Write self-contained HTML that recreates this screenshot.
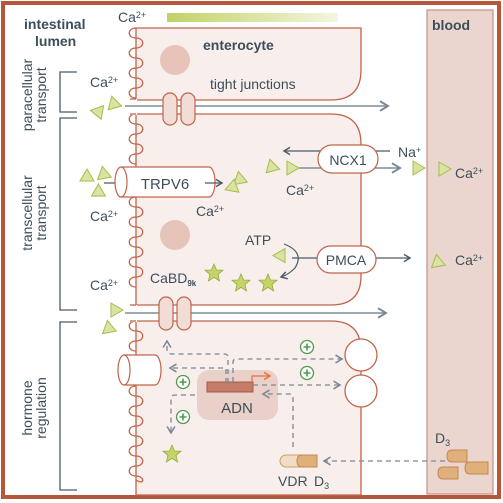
<!DOCTYPE html>
<html><head><meta charset="utf-8"><style>
html,body{margin:0;padding:0;background:#fff}
svg{display:block;font-family:"Liberation Sans",sans-serif}
</style></head><body>
<svg width="503" height="503" viewBox="0 0 503 503">
<defs>
<marker id="ah" markerWidth="8" markerHeight="8" refX="6" refY="4" orient="auto"><path d="M1,1 L6,4 L1,7" fill="none" stroke="#4a5a66" stroke-width="1.2"/></marker>
<marker id="ahg" markerWidth="8" markerHeight="8" refX="6" refY="4" orient="auto"><path d="M1,1 L6,4 L1,7" fill="none" stroke="#7a8894" stroke-width="1.2"/></marker>
<marker id="aho" markerWidth="8" markerHeight="8" refX="6" refY="4" orient="auto"><path d="M1,1 L6,4 L1,7" fill="none" stroke="#e8703a" stroke-width="1.2"/></marker>
<linearGradient id="grad" x1="0" x2="1"><stop offset="0" stop-color="#c3d166"/><stop offset="1" stop-color="#f3f6e0"/></linearGradient>
<g id="tri"><path d="M0,-7 L12,0 L0,7 Z" fill="#d8e4a2" stroke="#a9bb4c" stroke-width="1"/></g>
<g id="star"><path d="M0,-9 L2.6,-3 L9,-2.8 L4,1.4 L5.6,8 L0,4.4 L-5.6,8 L-4,1.4 L-9,-2.8 L-2.6,-3 Z" fill="#c5d46a" stroke="#98ab3c" stroke-width="0.8"/></g>
<g id="plus"><circle r="6.5" fill="#fff" stroke="#4f9a4f" stroke-width="1.3"/><path d="M-3.5,0 H3.5 M0,-3.5 V3.5" stroke="#4f9a4f" stroke-width="1.6"/></g>
</defs>
<rect x="3" y="3" width="496" height="494" fill="#fff" stroke="#b5573a" stroke-width="4"/>
<rect x="427" y="10" width="66" height="484" fill="#ead5cf" stroke="#c99080" stroke-width="1.2"/>
<rect x="167" y="13" width="171" height="9" fill="url(#grad)"/>

<g fill="#f8efed" stroke="#c0644a" stroke-width="1.3">
<path d="M136,28 H361 V70 Q361,100 331,100 H136 Z"/>
<path d="M136,114 H331 Q361,114 361,144 V276 Q361,305 331,305 H136 Z"/>
<path d="M136,321 H331 Q361,321 361,351 V495 H136 Z"/>
</g>
<g fill="#fff" stroke="#c0644a" stroke-width="1.3">
<circle cx="361" cy="355" r="16"/>
<circle cx="361" cy="391" r="16"/>
</g>
<path fill="none" stroke="#c0644a" stroke-width="1.3"
d="M136,28 c-9,0 -9,10 0,10 c9,0 9,10 0,10 c-9,0 -9,10 0,10 c9,0 9,10 0,10 c-9,0 -9,10 0,10 c9,0 9,10 0,10 c-9,0 -9,10 0,10
M136,114 c-9,0 -9,10 0,10 c9,0 9,10 0,10 c-9,0 -9,10 0,10 c9,0 9,10 0,10 c-9,0 -9,10 0,10 M136,197 c-9,0 -9,10 0,10 c9,0 9,10 0,10 c-9,0 -9,10 0,10 c9,0 9,10 0,10 c-9,0 -9,10 0,10 c9,0 9,10 0,10 c-9,0 -9,10 0,10 c9,0 9,10 0,10 c-9,0 -9,10 0,10
M136,321 c-9,0 -9,10 0,10 c9,0 9,10 0,10 c-9,0 -9,10 0,10 M136,386 c-9,0 -9,10 0,10 c9,0 9,10 0,10 c-9,0 -9,10 0,10 c9,0 9,10 0,10 c-9,0 -9,10 0,10 c9,0 9,10 0,10 c-9,0 -9,10 0,10 c9,0 9,10 0,10 c-9,0 -9,10 0,10 c9,0 9,10 0,4"/>
<rect x="131" y="99" width="6" height="16" fill="#fff"/>
<rect x="131" y="305" width="6" height="17" fill="#fff"/>
<line x1="130" y1="99" x2="136" y2="99" stroke="#c0644a" stroke-width="1.3"/>
<line x1="130" y1="114" x2="136" y2="114" stroke="#c0644a" stroke-width="1.3"/>
<line x1="130" y1="305" x2="136" y2="305" stroke="#c0644a" stroke-width="1.3"/>
<line x1="130" y1="321" x2="136" y2="321" stroke="#c0644a" stroke-width="1.3"/>

<line x1="125" y1="106" x2="388" y2="106" stroke="#7f8d98" stroke-width="1.6" marker-end="url(#ahg)"/>
<line x1="125" y1="313" x2="386" y2="313" stroke="#7f8d98" stroke-width="1.6" marker-end="url(#ahg)"/>
<g fill="#f1dcd6" stroke="#c0644a" stroke-width="1.2">
<rect x="163" y="93" width="14" height="32" rx="7"/><rect x="181" y="93" width="14" height="32" rx="7"/>
<rect x="159" y="297" width="14" height="33" rx="7"/><rect x="177" y="297" width="14" height="33" rx="7"/>
</g>
<circle cx="175" cy="60" r="15" fill="#e6c4b9"/>
<circle cx="175" cy="235" r="15" fill="#e6c4b9"/>

<g fill="none" stroke="#4a5a66" stroke-width="1.3">
<path d="M77,72 H60 V112 H77"/><path d="M77,118 H60 V310 H77"/><path d="M77,322 H60 V490 H77"/>
</g>
<g fill="#3d4e5b" font-size="14">
<text x="24" y="29" font-weight="bold">intestinal</text>
<text x="35" y="46" font-weight="bold">lumen</text>
<text x="203" y="50" font-weight="bold">enterocyte</text>
<text x="432" y="30" font-weight="bold">blood</text>
<text x="210" y="89">tight junctions</text>
<text transform="translate(32,95) rotate(-90)" text-anchor="middle">paracellular</text>
<text transform="translate(46,95) rotate(-90)" text-anchor="middle">transport</text>
<text transform="translate(32,213) rotate(-90)" text-anchor="middle">transcellular</text>
<text transform="translate(46,213) rotate(-90)" text-anchor="middle">transport</text>
<text transform="translate(32,408) rotate(-90)" text-anchor="middle">hormone</text>
<text transform="translate(46,408) rotate(-90)" text-anchor="middle">regulation</text>
<g>
<text x="118" y="22">Ca<tspan font-size="9" dy="-4">2+</tspan></text>
<text x="90" y="87">Ca<tspan font-size="9" dy="-4">2+</tspan></text>
<text x="90" y="221">Ca<tspan font-size="9" dy="-4">2+</tspan></text>
<text x="90" y="290">Ca<tspan font-size="9" dy="-4">2+</tspan></text>
<text x="196" y="216">Ca<tspan font-size="9" dy="-4">2+</tspan></text>
<text x="286" y="195">Ca<tspan font-size="9" dy="-4">2+</tspan></text>
<text x="455" y="178">Ca<tspan font-size="9" dy="-4">2+</tspan></text>
<text x="455" y="265">Ca<tspan font-size="9" dy="-4">2+</tspan></text>
</g>
<text x="398" y="157">Na<tspan font-size="9" dy="-4">+</tspan></text>
<text x="245" y="245">ATP</text>
<text x="150" y="283">CaBD<tspan font-size="8" font-weight="bold" dy="3">9k</tspan></text>
<text x="278" y="486">VDR</text>
<text x="314" y="486">D<tspan font-size="9" dy="3">3</tspan></text>
<text x="435" y="443">D<tspan font-size="9" dy="3">3</tspan></text>
</g>

<line x1="104" y1="183" x2="125" y2="183" stroke="#4a5a66" stroke-width="1.2"/>
<g>
<path d="M121,167 H209 A6,15 0 0 1 209,197 H121" fill="#fff" stroke="#c0644a" stroke-width="1.2"/>
<ellipse cx="121" cy="182" rx="6" ry="15" fill="#fff" stroke="#c0644a" stroke-width="1.2"/>
<text x="165" y="189" text-anchor="middle" font-size="15" fill="#3d4e5b">TRPV6</text>
</g>
<line x1="205" y1="183" x2="222" y2="183" stroke="#4a5a66" stroke-width="1.2" marker-end="url(#ah)"/>

<line x1="390" y1="151" x2="284" y2="151" stroke="#4a5a66" stroke-width="1.2" marker-end="url(#ah)"/>
<line x1="294" y1="168" x2="400" y2="168" stroke="#7f8d98" stroke-width="1.6" marker-end="url(#ahg)"/>
<g>
<rect x="318" y="145" width="60" height="28" rx="14" fill="#fff" stroke="#c0644a" stroke-width="1.2"/>
<text x="348" y="165" text-anchor="middle" font-size="14" fill="#3d4e5b">NCX1</text>
</g>
<line x1="292" y1="258" x2="317" y2="258" stroke="#4a5a66" stroke-width="1.2"/>
<line x1="376" y1="258" x2="410" y2="258" stroke="#4a5a66" stroke-width="1.2" marker-end="url(#ah)"/>
<path d="M284,244 Q305,252 295,268 Q288,275 281,277" fill="none" stroke="#4a5a66" stroke-width="1.2" marker-end="url(#ah)"/>
<g>
<rect x="317" y="246" width="59" height="27" rx="13.5" fill="#fff" stroke="#c0644a" stroke-width="1.2"/>
<text x="346" y="265" text-anchor="middle" font-size="14" fill="#3d4e5b">PMCA</text>
</g>

<g>
<use href="#tri" transform="translate(110,103) rotate(15)"/>
<use href="#tri" transform="translate(97,108) rotate(70)"/>
<use href="#tri" transform="translate(87,181) rotate(-90)"/>
<use href="#tri" transform="translate(100,173) rotate(20)"/>
<use href="#tri" transform="translate(95,190) rotate(30)"/>
<use href="#tri" transform="translate(236,178) rotate(20)"/>
<use href="#tri" transform="translate(232,191) rotate(-80)"/>
<use href="#tri" transform="translate(268,166) rotate(15)"/>
<use href="#tri" transform="translate(287,168) rotate(0)"/>
<use href="#tri" transform="translate(413,168)"/>
<use href="#tri" transform="translate(439,169) rotate(0)"/>
<use href="#tri" transform="translate(434,261) rotate(20)"/>
<use href="#tri" transform="translate(279,259) rotate(-60)"/>
<use href="#tri" transform="translate(111,310) rotate(0)"/>
<use href="#tri" transform="translate(105,327) rotate(20)"/>
</g>
<g>
<use href="#star" transform="translate(214,273)"/>
<use href="#star" transform="translate(241,283)"/>
<use href="#star" transform="translate(268,283)"/>
<use href="#star" transform="translate(172,454)"/>
</g>

<g>
<path d="M124,355 H155 A6,15 0 0 1 155,385 H124" fill="#fff" stroke="#c0644a" stroke-width="1.2"/>
<ellipse cx="124" cy="370" rx="6" ry="15" fill="#fff" stroke="#c0644a" stroke-width="1.2"/>
</g>
<rect x="197" y="370" width="81" height="50" rx="12" fill="#e9d0c8"/>
<rect x="207" y="382" width="46" height="10" fill="#c47c68" stroke="#a95a44"/>
<path d="M252,382 V376 H270" fill="none" stroke="#e8703a" stroke-width="1.2" marker-end="url(#aho)"/>
<text x="237" y="413" text-anchor="middle" font-size="15" fill="#3d4e5b">ADN</text>
<g fill="none" stroke="#7a8894" stroke-width="1.3" stroke-dasharray="5,4">
<path d="M228,383 V357 Q228,354 224,354 H172 Q167,354 167,350 V341" marker-end="url(#ahg)"/>
<path d="M226,383 V368 H170" marker-end="url(#ahg)"/>
<path d="M233,382 V362 Q233,359 237,359 H342" marker-end="url(#ahg)"/>
<path d="M253,385 H340" marker-end="url(#ahg)"/>
<path d="M195,395 H175 Q171,395 171,399 V433" marker-end="url(#ahg)"/>
<path d="M293,447 V397 Q293,394 290,394 H263" marker-end="url(#ahg)"/>
<path d="M445,461 H324" marker-end="url(#ahg)"/>
</g>
<g>
<use href="#plus" transform="translate(307,347)"/>
<use href="#plus" transform="translate(307,373)"/>
<use href="#plus" transform="translate(183,382)"/>
<use href="#plus" transform="translate(183,417)"/>
</g>
<g>
<rect x="280" y="455" width="37" height="12" rx="6" fill="#f3dcc4" stroke="#d19a6a"/>
<path d="M302,455 H317 V467 H302 Q297,467 297,461 Q297,455 302,455 Z" fill="#e0b07a" stroke="#c48950"/>
</g>
<g fill="#e0b07a" stroke="#c48950">
<path d="M452,450 H467 V462 H452 Q447,462 447,456 Q447,450 452,450 Z"/>
<path d="M443,467 H458 V479 H443 Q438,479 438,473 Q438,467 443,467 Z"/>
<path d="M470,462 H488 V474 H470 Q465,474 465,468 Q465,462 470,462 Z"/>
</g>
</svg>
</body></html>
